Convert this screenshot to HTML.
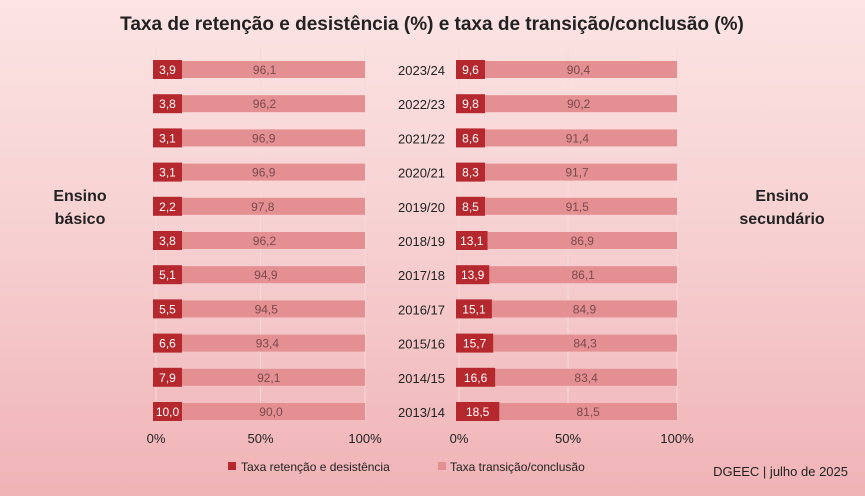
<!DOCTYPE html>
<html><head><meta charset="utf-8"><style>
body{margin:0;width:865px;height:496px;overflow:hidden;font-family:"Liberation Sans",sans-serif;background:linear-gradient(#fce4e4,#f6cfd0 50%,#f0b3b6);}
svg{display:block}
</style></head><body>
<svg id="c" width="865" height="496">
<text x="432" y="30" text-anchor="middle" font-size="19" font-weight="bold" fill="#222">Taxa de retenção e desistência (%) e taxa de transição/conclusão (%)</text>
<text x="80" y="201" text-anchor="middle" font-size="16" font-weight="bold" fill="#222">Ensino</text>
<text x="80" y="224" text-anchor="middle" font-size="16" font-weight="bold" fill="#222">básico</text>
<text x="782" y="201" text-anchor="middle" font-size="16" font-weight="bold" fill="#222">Ensino</text>
<text x="782" y="224" text-anchor="middle" font-size="16" font-weight="bold" fill="#222">secundário</text>
<rect x="228" y="462" width="8" height="8" fill="#b5282e"/>
<text x="241" y="471" font-size="12" fill="#222">Taxa retenção e desistência</text>
<rect x="438" y="462" width="8" height="8" fill="#e48f92"/>
<text x="450" y="471" font-size="12" fill="#222">Taxa transição/conclusão</text>
<text x="848" y="476" text-anchor="end" font-size="13" fill="#222">DGEEC | julho de 2025</text>
</svg>
<script>
const years=["2023/24","2022/23","2021/22","2020/21","2019/20","2018/19","2017/18","2016/17","2015/16","2014/15","2013/14"];
const basicoRet=[3.9,3.8,3.1,3.1,2.2,3.8,5.1,5.5,6.6,7.9,10.0];
const secRet=[9.6,9.8,8.6,8.3,8.5,13.1,13.9,15.1,15.7,16.6,18.5];
const ticks=[0,50,100];
const svg=document.getElementById('c');
const NS='http://www.w3.org/2000/svg';
function mk(t,a,p){const e=document.createElementNS(NS,t);for(const k in a)e.setAttribute(k,a[k]);(p||svg).appendChild(e);return e;}
const fmt=v=>v.toFixed(1).replace('.',',');
const yPos=i=>61+i*34.2;
const bh=17;
function panel(x0,x1,ret,name){
  const sx=v=>x0+(x1-x0)*v/100;
  const g=mk('g',{});
  
  
  ticks.forEach(t=>{
    const l=mk('line',{x1:sx(t),x2:sx(t),y1:48,y2:420,stroke:'#f6dada','stroke-width':1},g);
    
    
    const tx=mk('text',{x:sx(t),y:443,'text-anchor':'middle','font-size':13,fill:'#222'},g);
    tx.textContent=t+'%';
    
    
  });
  ret.forEach((r,i)=>{
    const y=yPos(i);
    const tr=mk('rect',{x:sx(r),y:y,width:sx(100)-sx(r),height:bh,fill:'#e48f92'},g);
    
    
    const w=Math.max(sx(r)-sx(0),26);
    const rr=mk('rect',{x:sx(0)-3,y:y-1,width:w+3,height:bh+2,fill:'#b5282e'},g);
    
    
    const t1=mk('text',{x:sx(0)-3+(w+3)/2,y:y+13,'text-anchor':'middle','font-size':12,fill:'#fff'},g);
    t1.textContent=fmt(r);
    
    
    const t2=mk('text',{x:(sx(r)+sx(100))/2,y:y+13,'text-anchor':'middle','font-size':12,fill:'#7a4a4c'},g);
    t2.textContent=fmt(100-r);
    
    
  });
}
panel(156,365,basicoRet,'panel-ensino-basico');
panel(459,677,secRet,'panel-ensino-secundario');
years.forEach((y,i)=>{
  const t=mk('text',{x:445,y:yPos(i)+14,'text-anchor':'end','font-size':13,fill:'#222'});
  t.textContent=y;
  
  
});
</script>
</body></html>
